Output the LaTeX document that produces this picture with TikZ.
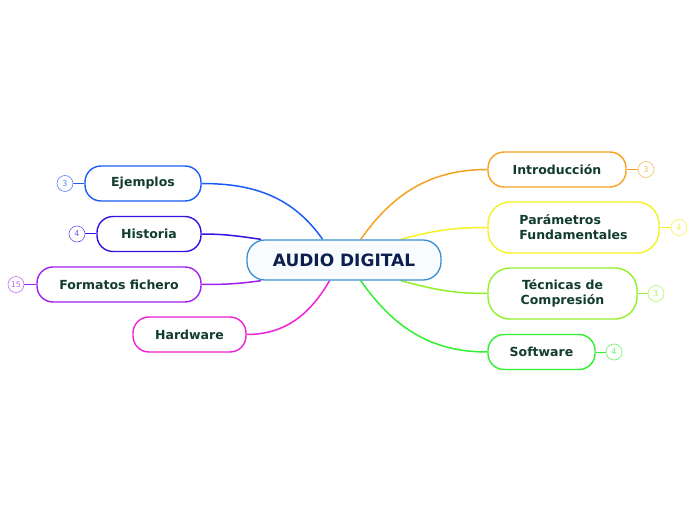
\documentclass[tikz,border=0pt]{standalone}
\usepackage{fontspec}
\setmainfont{DejaVu Sans}
\usetikzlibrary{positioning}
\usetikzlibrary{backgrounds}
\definecolor{cMain}{HTML}{3A8FD0}
\definecolor{cMainText}{HTML}{0C1F4F}
\definecolor{cText}{HTML}{123C30}
\definecolor{cEjem}{HTML}{1A5CF8}
\definecolor{cHist}{HTML}{3412E2}
\definecolor{cForm}{HTML}{A020F0}
\definecolor{cHard}{HTML}{F020D8}
\definecolor{cIntro}{HTML}{F8A020}
\definecolor{cParam}{HTML}{F2F224}
\definecolor{cTec}{HTML}{92F028}
\definecolor{cSoft}{HTML}{30F030}
\tikzset{
	main/.style={draw=cMain, rectangle, rounded corners=18pt, line width=1.3pt, fill=cMain!3, minimum width=194pt, minimum height=40pt, font=\fontsize{17}{20}\selectfont\bfseries, text=cMainText},
	topic/.style={draw, rectangle, rounded corners=16pt, line width=1.4pt, fill=white, minimum height=35pt, inner xsep=10pt, font=\fontsize{12.5}{15}\selectfont\bfseries, text=cText},
	% two-line topics
	bigtopic/.style={topic, rounded corners=22pt, minimum height=51pt},
	badge/.style={draw, circle, inner sep=0pt, minimum size=16pt, line width=0.6pt, fill=white, font=\fontsize{8}{8}\selectfont},
	branch/.style={line width=1.5pt},
	badgeline/.style={line width=1pt},
}

\begin{document}
\begin{tikzpicture}[x=1pt, y=1pt]
	\useasboundingbox (0,0) rectangle (696,520);
	
	\node (audio) [main] at (344,260) {AUDIO DIGITAL};
	
	% left side
	\node (ejemplos) [topic, draw=cEjem, minimum width=116pt] at (143,336.5) {Ejemplos};
	\node (historia) [topic, draw=cHist, minimum width=104pt] at (149,286) {Historia};
	\node (formatos) [topic, draw=cForm, minimum width=164pt] at (119,235.5) {Formatos fichero};
	\node (hardware) [topic, draw=cHard, minimum width=113pt] at (189.5,185.5) {Hardware};
	
	% right side
	\node (intro) [topic, draw=cIntro, minimum width=138pt] at (557,350.5) {Introducción};
	\node (param) [bigtopic, draw=cParam, minimum width=171pt, align=left] at (573.5,292.5) {Parámetros\\Fundamentales};
	\node (tecnicas) [bigtopic, draw=cTec, minimum width=149pt, align=center] at (562.5,226.5) {Técnicas de\\Compresión};
	\node (software) [topic, draw=cSoft, minimum width=107pt] at (541.5,168) {Software};
	
	\node (b-ejem) [badge, draw=cEjem!75!white, text=cEjem!75!white, left=11pt of ejemplos] {3};
	\node (b-hist) [badge, draw=cHist!70!white, text=cHist!70!white, left=11pt of historia] {4};
	\node (b-form) [badge, draw=cForm!65!white, text=cForm!65!white, left=12pt of formatos] {15};
	\node (b-intro) [badge, draw=cIntro!70!white, text=cIntro!70!white, right=11pt of intro] {3};
	\node (b-param) [badge, draw=cParam!80!white, text=cParam!80!white, right=11pt of param] {4};
	\node (b-tec) [badge, draw=cTec!75!white, text=cTec!75!white, right=10pt of tecnicas] {3};
	\node (b-soft) [badge, draw=cSoft!75!white, text=cSoft!75!white, right=10pt of software] {4};
	
	\begin{scope}[on background layer]
		\draw [branch, cEjem] (ejemplos.east) to[out=0, in=125] (audio.136);
		\draw [branch, cHist] (historia.east) to[out=0, in=172] (audio.166);
		\draw [branch, cForm] (formatos.east) to[out=0, in=188] (audio.194);
		\draw [branch, cHard] (hardware.east) to[out=0, in=240] (audio.235);
		
		\draw [branch, cIntro] (audio.51) to[out=55, in=180] (intro.west);
		\draw [branch, cParam] (audio.20) to[out=15, in=180] (param.west);
		\draw [branch, cTec] (audio.340) to[out=-15, in=180] (tecnicas.west);
		\draw [branch, cSoft] (audio.309) to[out=-55, in=180] (software.west);
		
		\draw [badgeline, cEjem] (ejemplos.west) -- (b-ejem);
		\draw [badgeline, cHist] (historia.west) -- (b-hist);
		\draw [badgeline, cForm] (formatos.west) -- (b-form);
		\draw [badgeline, cIntro] (intro.east) -- (b-intro);
		\draw [badgeline, cParam] (param.east) -- (b-param);
		\draw [badgeline, cTec] (tecnicas.east) -- (b-tec);
		\draw [badgeline, cSoft] (software.east) -- (b-soft);
	\end{scope}
\end{tikzpicture}
\end{document}
